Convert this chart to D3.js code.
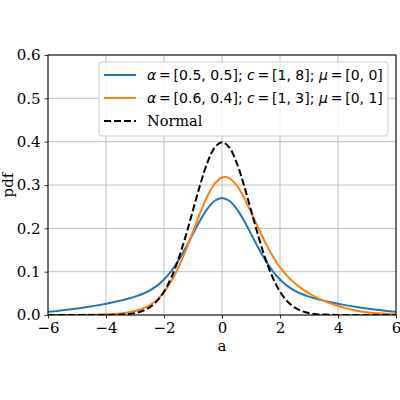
<!DOCTYPE html>
<html>
<head>
    <script src="https://d3js.org/d3.v7.min.js"></script>
    <style>
        body { margin: 0; background: white; }
        .tick text { font-family: "DejaVu Serif", serif; font-size: 15px; fill: #000; }
        .axis-label { font-family: "DejaVu Serif", serif; font-size: 15px; }
        .grid line { stroke: #b0b0b0; stroke-width: 0.8; }
        .legend-text { font-family: "DejaVu Sans", sans-serif; font-size: 14px; }
    </style>
</head>
<body>
    <div id="chart"></div>
    <script>
        // x positions where curves were read
        const xs = [-6, -5.75, -5.5, -5.25, -5, -4.75, -4.5, -4.25, -4, -3.75, -3.5, -3.25, -3,
            -2.75, -2.5, -2.25, -2, -1.75, -1.5, -1.25, -1, -0.75, -0.5, -0.25, 0,
            0.25, 0.5, 0.75, 1, 1.25, 1.5, 1.75, 2, 2.25, 2.5, 2.75, 3,
            3.25, 3.5, 3.75, 4, 4.25, 4.5, 4.75, 5, 5.25, 5.5, 5.75, 6];

        // blue: α=[0.5,0.5]; c=[1,8]; μ=[0,0]
        const mix1 = [0.0074, 0.0089, 0.0107, 0.0126, 0.0148, 0.0172, 0.0199, 0.0228, 0.0260, 0.0295, 0.0332, 0.0375, 0.0424,
            0.0485, 0.0565, 0.0673, 0.0819, 0.1014, 0.1260, 0.1553, 0.1872, 0.2187, 0.2455, 0.2636, 0.2700,
            0.2636, 0.2455, 0.2187, 0.1872, 0.1553, 0.1260, 0.1014, 0.0819, 0.0673, 0.0565, 0.0485, 0.0424,
            0.0375, 0.0332, 0.0295, 0.0260, 0.0228, 0.0199, 0.0172, 0.0148, 0.0126, 0.0107, 0.0089, 0.0074];

        // orange: α=[0.6,0.4]; c=[1,3]; μ=[0,1]
        const mix2 = [0.0000, 0.0001, 0.0001, 0.0001, 0.0002, 0.0004, 0.0006, 0.0010, 0.0015, 0.0024, 0.0037, 0.0058, 0.0091,
            0.0143, 0.0225, 0.0349, 0.0530, 0.0779, 0.1102, 0.1492, 0.1925, 0.2360, 0.2746, 0.3030, 0.3174,
            0.3159, 0.2996, 0.2719, 0.2373, 0.2008, 0.1661, 0.1357, 0.1104, 0.0901, 0.0738, 0.0608, 0.0500,
            0.0408, 0.0330, 0.0263, 0.0206, 0.0159, 0.0120, 0.0088, 0.0064, 0.0045, 0.0032, 0.0021, 0.0014];

        // black dashed: Normal
        const normal = [0.0000, 0.0000, 0.0000, 0.0000, 0.0000, 0.0000, 0.0000, 0.0001, 0.0001, 0.0004, 0.0009, 0.0020, 0.0044,
            0.0091, 0.0175, 0.0317, 0.0540, 0.0863, 0.1295, 0.1826, 0.2420, 0.3011, 0.3521, 0.3867, 0.3989,
            0.3867, 0.3521, 0.3011, 0.2420, 0.1826, 0.1295, 0.0863, 0.0540, 0.0317, 0.0175, 0.0091, 0.0044,
            0.0020, 0.0009, 0.0004, 0.0001, 0.0001, 0.0000, 0.0000, 0.0000, 0.0000, 0.0000, 0.0000, 0.0000];

        const xTicks = [-6, -4, -2, 0, 2, 4, 6];
        const yTicks = [0.0, 0.1, 0.2, 0.3, 0.4, 0.5, 0.6];

        const eq = "\u2009=\u2009";
        const series = [
            { name: "mix1", values: mix1, color: "#1f77b4", dash: null,
              label: [["α", true], [eq + "[0.5, 0.5]; ", false], ["c", true], [eq + "[1, 8]; ", false], ["μ", true], [eq + "[0, 0]", false]] },
            { name: "mix2", values: mix2, color: "#ff7f0e", dash: null,
              label: [["α", true], [eq + "[0.6, 0.4]; ", false], ["c", true], [eq + "[1, 3]; ", false], ["μ", true], [eq + "[0, 1]", false]] },
            { name: "normal", values: normal, color: "#000000", dash: "7,3", label: null }
        ];

        const width = 400, height = 400;
        const margin = { top: 55, right: 4, bottom: 85, left: 48 };

        const svg = d3.select("#chart").append("svg")
            .attr("width", width)
            .attr("height", height);

        const x = d3.scaleLinear().domain([-6, 6]).range([margin.left, width - margin.right]);
        const y = d3.scaleLinear().domain([0, 0.6]).range([height - margin.bottom, margin.top]);

        // 格線
        svg.append("g").attr("class", "grid")
            .selectAll("line.v").data(xTicks).enter().append("line")
            .attr("x1", d => x(d)).attr("x2", d => x(d))
            .attr("y1", y(0)).attr("y2", y(0.6));
        svg.append("g").attr("class", "grid")
            .selectAll("line.h").data(yTicks).enter().append("line")
            .attr("x1", x(-6)).attr("x2", x(6))
            .attr("y1", d => y(d)).attr("y2", d => y(d));

        // 曲線
        svg.append("clipPath").attr("id", "clip")
            .append("rect")
            .attr("x", x(-6)).attr("y", y(0.6))
            .attr("width", x(6) - x(-6)).attr("height", y(0) - y(0.6));

        const line = d3.line()
            .x((d, i) => x(xs[i]))
            .y(d => y(d))
            .curve(d3.curveCatmullRom);

        svg.append("g").attr("clip-path", "url(#clip)")
            .selectAll("path").data(series).enter().append("path")
            .attr("d", d => line(d.values))
            .attr("fill", "none")
            .attr("stroke", d => d.color)
            .attr("stroke-width", 2)
            .attr("stroke-dasharray", d => d.dash);

        // 座標軸
        const xAxis = svg.append("g")
            .attr("transform", `translate(0,${y(0)})`)
            .call(d3.axisBottom(x).tickValues(xTicks).tickSize(3.5).tickPadding(4).tickFormat(d3.format("d")));
        const yAxis = svg.append("g")
            .attr("transform", `translate(${x(-6)},0)`)
            .call(d3.axisLeft(y).tickValues(yTicks).tickSize(3.5).tickPadding(4).tickFormat(d3.format(".1f")));
        [xAxis, yAxis].forEach(a => {
            a.select(".domain").remove();
            a.selectAll(".tick line").attr("stroke", "#000").attr("stroke-width", 0.8);
        });

        // 外框
        svg.append("rect")
            .attr("x", x(-6)).attr("y", y(0.6))
            .attr("width", x(6) - x(-6)).attr("height", y(0) - y(0.6))
            .attr("fill", "none").attr("stroke", "#000").attr("stroke-width", 1);

        svg.append("text").attr("class", "axis-label")
            .attr("x", x(0)).attr("y", 351)
            .attr("text-anchor", "middle")
            .text("a");
        svg.append("text").attr("class", "axis-label")
            .attr("transform", `translate(13,${(y(0) + y(0.6)) / 2}) rotate(-90)`)
            .attr("text-anchor", "middle")
            .text("pdf");

        // 圖例
        const legend = svg.append("g");
        legend.append("rect")
            .attr("x", 99).attr("y", 62)
            .attr("width", 289).attr("height", 74)
            .attr("rx", 3)
            .attr("fill", "white").attr("fill-opacity", 0.8)
            .attr("stroke", "#cccccc").attr("stroke-width", 1);

        series.forEach((s, i) => {
            const ly = 75 + i * 23;
            legend.append("line")
                .attr("x1", 104).attr("x2", 136)
                .attr("y1", ly).attr("y2", ly)
                .attr("stroke", s.color).attr("stroke-width", 2)
                .attr("stroke-dasharray", s.dash);
            const t = legend.append("text")
                .attr("x", 147).attr("y", ly + 5);
            if (s.label) {
                t.attr("class", "legend-text");
                s.label.forEach(([txt, it]) => {
                    t.append("tspan")
                        .attr("font-style", it ? "italic" : "normal")
                        .text(txt);
                });
            } else {
                t.attr("class", "axis-label").style("font-size", "14.5px").text("Normal");
            }
        });
    </script>
</body>
</html>
